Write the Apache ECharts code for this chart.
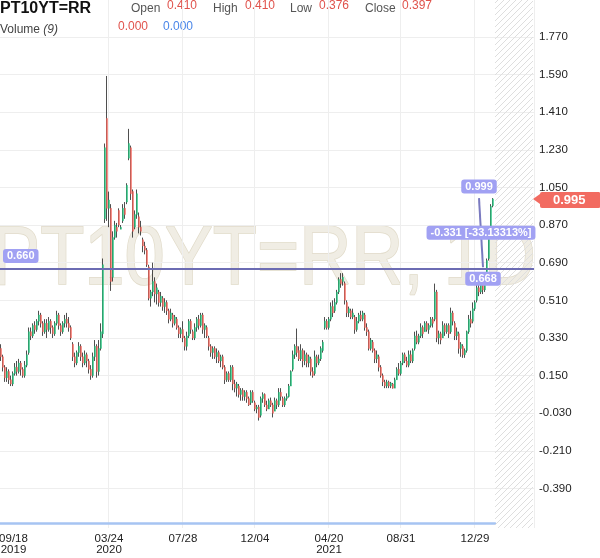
<!DOCTYPE html>
<html><head><meta charset="utf-8">
<script src="https://cdn.jsdelivr.net/npm/echarts@6/dist/echarts.min.js"></script>
<style>html,body{margin:0;padding:0;background:#fff}#c{width:600px;height:558px}</style>
</head><body><div id="c"></div><script>
// ---- data (one candle ~ two trading days, Sep 2019 -> Feb 2022) ----
const opens = [0.28,0.24,0.19,0.14,0.17,0.13,0.11,0.16,0.19,0.17,
0.21,0.18,0.15,0.20,0.26,0.36,0.34,0.39,0.37,0.41,
0.44,0.40,0.36,0.40,0.37,0.41,0.38,0.35,0.40,0.44,
0.39,0.36,0.40,0.42,0.40,0.38,0.30,0.24,0.21,0.26,
0.29,0.24,0.21,0.25,0.22,0.18,0.15,0.24,0.29,0.17,
0.28,0.35,0.90,1.38,0.95,0.95,0.62,0.81,0.86,0.94,
0.85,0.89,0.95,0.98,1.19,1.24,1.03,0.86,0.92,0.91,
0.86,0.80,0.77,0.75,0.67,0.52,0.55,0.60,0.54,0.55,
0.50,0.52,0.48,0.50,0.46,0.42,0.44,0.40,0.42,0.38,
0.35,0.37,0.33,0.29,0.34,0.41,0.36,0.33,0.38,0.42,
0.39,0.44,0.37,0.38,0.33,0.29,0.26,0.28,0.24,0.26,
0.22,0.24,0.19,0.13,0.16,0.13,0.19,0.11,0.09,0.10,
0.06,0.08,0.05,0.07,0.04,0.02,0.07,0.02,-0.01,0.00,
-0.04,0.04,0.06,0.01,-0.01,0.03,0.01,-0.02,0.03,0.01,
0.07,0.04,0.01,0.04,0.05,0.10,0.18,0.25,0.29,0.27,
0.23,0.27,0.22,0.25,0.21,0.23,0.17,0.16,0.24,0.21,
0.23,0.27,0.38,0.41,0.38,0.42,0.48,0.46,0.50,0.55,
0.61,0.60,0.59,0.50,0.45,0.46,0.43,0.43,0.37,0.41,
0.44,0.42,0.44,0.38,0.36,0.28,0.31,0.27,0.23,0.24,
0.19,0.15,0.12,0.10,0.12,0.10,0.11,0.09,0.13,0.18,
0.16,0.21,0.25,0.22,0.20,0.25,0.22,0.28,0.34,0.31,
0.34,0.38,0.36,0.40,0.37,0.39,0.42,0.42,0.55,0.33,
0.35,0.33,0.39,0.36,0.39,0.36,0.45,0.40,0.34,0.35,
0.28,0.29,0.25,0.27,0.36,0.42,0.41,0.47,0.51,0.57,
0.55,0.59,0.56,0.63,0.71,0.84,0.962];
const closes = [0.24,0.19,0.14,0.17,0.13,0.11,0.16,0.19,0.17,0.21,
0.18,0.15,0.20,0.25,0.36,0.34,0.39,0.37,0.41,0.44,
0.40,0.36,0.40,0.37,0.41,0.38,0.35,0.40,0.44,0.39,
0.36,0.40,0.42,0.40,0.38,0.33,0.24,0.21,0.26,0.29,
0.24,0.21,0.25,0.22,0.18,0.15,0.24,0.29,0.17,0.28,
0.36,0.68,1.24,0.95,0.99,0.60,0.81,0.87,0.84,0.87,
0.86,0.95,0.92,1.06,1.26,1.02,0.84,0.92,1.02,0.86,
0.84,0.77,0.75,0.68,0.52,0.55,0.60,0.54,0.57,0.50,
0.53,0.48,0.50,0.46,0.42,0.45,0.40,0.43,0.38,0.35,
0.37,0.33,0.29,0.34,0.41,0.37,0.33,0.38,0.42,0.39,
0.44,0.37,0.39,0.34,0.29,0.26,0.28,0.24,0.26,0.22,
0.24,0.19,0.13,0.16,0.13,0.19,0.11,0.09,0.11,0.06,
0.08,0.05,0.07,0.04,0.01,0.07,0.03,-0.01,0.00,-0.05,
0.04,0.06,0.01,-0.01,0.03,0.01,-0.03,0.03,0.01,0.07,
0.05,0.01,0.04,0.05,0.10,0.17,0.25,0.29,0.26,0.23,
0.27,0.22,0.25,0.21,0.24,0.17,0.15,0.24,0.21,0.23,
0.28,0.31,0.41,0.38,0.42,0.48,0.45,0.50,0.55,0.61,
0.59,0.62,0.51,0.45,0.47,0.43,0.45,0.37,0.41,0.44,
0.42,0.45,0.38,0.36,0.28,0.32,0.27,0.23,0.25,0.19,
0.15,0.12,0.10,0.12,0.10,0.115,0.09,0.13,0.18,0.16,
0.21,0.25,0.22,0.20,0.25,0.22,0.27,0.34,0.31,0.34,
0.38,0.35,0.40,0.37,0.39,0.42,0.40,0.55,0.33,0.35,
0.32,0.39,0.36,0.39,0.35,0.45,0.41,0.34,0.36,0.28,
0.30,0.25,0.27,0.36,0.42,0.40,0.47,0.50,0.57,0.55,
0.59,0.56,0.60,0.70,0.83,0.96,0.995];
const lows = [0.22,0.17,0.12,0.12,0.11,0.10,0.10,0.15,0.15,0.16,
0.15,0.14,0.14,0.19,0.25,0.32,0.33,0.35,0.36,0.39,
0.38,0.34,0.35,0.33,0.36,0.35,0.33,0.34,0.39,0.37,
0.34,0.35,0.38,0.38,0.36,0.32,0.22,0.19,0.20,0.24,
0.22,0.19,0.20,0.19,0.16,0.13,0.14,0.22,0.14,0.15,
0.27,0.33,0.88,0.89,0.86,0.555,0.60,0.80,0.81,0.86,
0.85,0.88,0.90,0.97,1.18,0.99,0.81,0.85,0.90,0.83,
0.82,0.74,0.73,0.67,0.51,0.48,0.53,0.50,0.49,0.48,
0.48,0.46,0.45,0.44,0.40,0.41,0.38,0.39,0.37,0.33,
0.33,0.31,0.27,0.27,0.33,0.35,0.32,0.32,0.36,0.37,
0.38,0.35,0.33,0.33,0.27,0.24,0.23,0.23,0.21,0.21,
0.19,0.18,0.11,0.12,0.12,0.12,0.08,0.07,0.05,0.045,
0.03,0.03,0.03,0.02,0.005,0.01,0.02,-0.02,-0.03,-0.065,
-0.05,0.02,0.00,-0.02,-0.01,0.00,-0.05,-0.02,-0.01,0.00,
0.03,0.00,0.00,0.03,0.045,0.10,0.17,0.23,0.24,0.22,
0.22,0.19,0.20,0.19,0.19,0.15,0.14,0.15,0.19,0.20,
0.22,0.26,0.37,0.37,0.37,0.41,0.43,0.45,0.49,0.54,
0.57,0.58,0.49,0.43,0.43,0.42,0.42,0.35,0.36,0.40,
0.41,0.41,0.365,0.34,0.27,0.27,0.26,0.21,0.21,0.17,
0.14,0.10,0.09,0.09,0.09,0.09,0.088,0.09,0.13,0.15,
0.15,0.20,0.21,0.19,0.19,0.21,0.21,0.27,0.30,0.30,
0.33,0.33,0.36,0.36,0.35,0.38,0.38,0.41,0.31,0.30,
0.30,0.33,0.34,0.35,0.33,0.35,0.39,0.32,0.32,0.255,
0.24,0.235,0.235,0.26,0.35,0.38,0.40,0.46,0.50,0.53,
0.54,0.54,0.55,0.62,0.70,0.83,0.955];
const highs = [0.30,0.25,0.20,0.19,0.18,0.15,0.17,0.21,0.22,0.23,
0.22,0.19,0.22,0.27,0.38,0.38,0.40,0.41,0.42,0.46,
0.45,0.41,0.42,0.42,0.43,0.42,0.39,0.41,0.46,0.45,
0.40,0.41,0.44,0.45,0.43,0.39,0.31,0.26,0.27,0.31,
0.30,0.26,0.27,0.26,0.23,0.20,0.26,0.32,0.30,0.32,
0.40,0.71,1.26,1.583,1.03,0.97,0.84,0.89,0.88,0.95,
0.87,0.97,0.98,1.07,1.33,1.25,1.04,0.94,1.04,0.93,
0.89,0.81,0.79,0.76,0.68,0.56,0.69,0.62,0.59,0.56,
0.55,0.53,0.52,0.51,0.47,0.47,0.45,0.44,0.43,0.39,
0.38,0.41,0.34,0.36,0.42,0.42,0.37,0.40,0.43,0.44,
0.45,0.45,0.40,0.39,0.34,0.30,0.29,0.29,0.28,0.27,
0.25,0.25,0.20,0.17,0.17,0.20,0.20,0.13,0.12,0.11,
0.09,0.09,0.08,0.08,0.05,0.08,0.08,0.03,0.01,0.01,
0.05,0.07,0.065,0.03,0.04,0.045,0.02,0.045,0.04,0.09,
0.09,0.05,0.05,0.065,0.11,0.175,0.27,0.30,0.375,0.29,
0.30,0.28,0.27,0.26,0.25,0.24,0.19,0.27,0.25,0.25,
0.29,0.32,0.43,0.42,0.43,0.50,0.51,0.52,0.56,0.62,
0.64,0.64,0.60,0.51,0.48,0.47,0.47,0.44,0.43,0.45,
0.46,0.46,0.45,0.40,0.37,0.33,0.32,0.28,0.27,0.25,
0.20,0.16,0.13,0.13,0.126,0.12,0.115,0.14,0.19,0.21,
0.22,0.26,0.26,0.24,0.27,0.27,0.28,0.36,0.365,0.35,
0.40,0.39,0.41,0.41,0.40,0.43,0.43,0.59,0.56,0.365,
0.36,0.41,0.40,0.40,0.40,0.475,0.46,0.41,0.38,0.36,
0.31,0.30,0.28,0.365,0.44,0.46,0.50,0.51,0.59,0.60,
0.61,0.62,0.62,0.71,0.84,0.97,0.999];

// x tick labels: [candle index, date, year]
const tickLabels = [[0,'09/18','2019'],[54,'03/24','2020'],[91,'07/28',''],[127,'12/04',''],
  [164,'04/20','2021'],[200,'08/31',''],[237,'12/29','']];
const yTickValues = [-0.39,-0.21,-0.03,0.15,0.33,0.51,0.69,0.87,1.05,1.23,1.41,1.59,1.77];
const refLevel = 0.660;
const lastClose = 0.995;
const measureFrom = [239, 0.999];
const measureTo = [241, 0.668];
const measureText = '-0.331 [-33.13313%]';
const symbolName = 'PT10YT=RR';
const watermarkText = 'PT10YT=RR, 1D';
const quoteLabels = ['Open','High','Low','Close'];
const quoteValues = ['0.410','0.410','0.376','0.397'];
const volumeValues = ['0.000','0.000'];
const futureSlots = 20;

// ---- build ----
const FONT = '"Liberation Sans", Arial, sans-serif';
const UP = '#22c27c', DOWN = '#f4645a';
const categories = Array.from({length: opens.length + futureSlots}, (_, i) => String(i));
const labelAt = new Map(tickLabels.map(t => [t[0], t]));
const candleData = opens.map((o, i) => [o, closes[i], lows[i], highs[i]]);
const bodyData = opens.map((o, i) => [o, closes[i], Math.min(o, closes[i]), Math.max(o, closes[i])]);

const hatch = document.createElement('canvas');
hatch.width = 6; hatch.height = 6;
const hg = hatch.getContext('2d');
hg.strokeStyle = '#dedede'; hg.lineWidth = 1;
hg.beginPath();
hg.moveTo(0, 6); hg.lineTo(6, 0);
hg.moveTo(-1, 1); hg.lineTo(1, -1);
hg.moveTo(5, 7); hg.lineTo(7, 5);
hg.stroke();

const boxLabel = {backgroundColor: '#a1a1f3', color: '#fff', fontWeight: 'bold', fontSize: 11,
  fontFamily: FONT, padding: [2, 4, 1, 4], borderRadius: 3};

const labelXs = [131, 213, 290, 365];
const valueXs = [167, 245, 319, 402];
const graphics = [
  {type: 'text', x: 264, y: 261, scaleX: 0.86, z: -10, silent: true,
   style: {text: watermarkText, font: '84px ' + FONT, fill: '#f0ede4', stroke: '#e0dac8', lineWidth: 1.5,
     align: 'center', verticalAlign: 'middle'}},
  {type: 'text', x: 0, y: 9, style: {text: symbolName, font: 'bold 16px ' + FONT, fill: '#111', verticalAlign: 'middle'}},
  {type: 'text', x: 0, y: 30, style: {text: 'Volume {i|(9)}', font: '12px ' + FONT, fill: '#444', verticalAlign: 'middle',
     rich: {i: {fontStyle: 'italic', fontSize: 12, fontFamily: FONT, fill: '#444'}}}},
  {type: 'text', x: 118, y: 27, style: {text: volumeValues[0], font: '12px ' + FONT, fill: '#e0534c', verticalAlign: 'middle'}},
  {type: 'text', x: 163, y: 27, style: {text: volumeValues[1], font: '12px ' + FONT, fill: '#4a86e8', verticalAlign: 'middle'}},
  // small pointer of the last-price tag
  {type: 'polygon', z: 10, silent: true, shape: {points: [[533, 199], [540, 194], [540, 204]]}, style: {fill: '#f26b61'}}
];
quoteLabels.forEach((t, i) => {
  graphics.push({type: 'text', x: labelXs[i], y: 9, style: {text: t, font: '12px ' + FONT, fill: '#555', verticalAlign: 'middle'}});
  graphics.push({type: 'text', x: valueXs[i], y: 6, style: {text: quoteValues[i], font: '12px ' + FONT, fill: '#e0534c', verticalAlign: 'middle'}});
});

const chart = echarts.init(document.getElementById('c'), null, {renderer: 'canvas'});
chart.setOption({
  animation: false,
  backgroundColor: '#fff',
  textStyle: {fontFamily: FONT},
  graphic: graphics,
  grid: [
    {left: 0, right: 66, top: 0, bottom: 30, outerBoundsMode: 'none', containLabel: false},
    {left: 0, width: 495, top: 520, height: 3.5, outerBoundsMode: 'none', containLabel: false}
  ],
  xAxis: [
    {type: 'category', gridIndex: 0, data: categories, boundaryGap: true,
     axisLine: {show: false}, axisTick: {show: false},
     axisLabel: {
       interval: (i) => labelAt.has(i), color: '#222', fontSize: 11.5, lineHeight: 11, margin: 5,
       fontFamily: FONT, hideOverlap: false,
       formatter: (v, i) => {
         const t = labelAt.get(i); if (!t) return '';
         if (i === 0) return '{l|' + t[1] + '}' + (t[2] ? '\n{l|' + t[2] + '}' : '');
         return t[1] + (t[2] ? '\n' + t[2] : '');
       },
       rich: {l: {padding: [0, 0, 0, 25], fontSize: 11.5, lineHeight: 11, color: '#222', fontFamily: FONT}}
     },
     splitLine: {show: true, interval: (i) => labelAt.has(i) && i > 0, lineStyle: {color: '#eeeeee', width: 1}}},
    {type: 'value', gridIndex: 1, min: 0, max: 1,
     axisLine: {show: true, onZero: false, lineStyle: {color: '#a6c4f2', width: 2.5}},
     axisTick: {show: false}, axisLabel: {show: false}, splitLine: {show: false}}
  ],
  yAxis: [
    {type: 'value', gridIndex: 0, position: 'right', min: -0.5788, max: 1.9463,
     axisLine: {show: false},
     axisTick: {show: false, customValues: yTickValues},
     axisLabel: {customValues: yTickValues, formatter: (v) => v.toFixed(3), color: '#222', fontSize: 11.5,
       margin: 5, fontFamily: FONT},
     splitLine: {show: true, lineStyle: {color: '#eeeeee', width: 1}}},
    {type: 'value', gridIndex: 1, show: false, min: 0, max: 1}
  ],
  series: [
    {type: 'candlestick', name: 'wick', xAxisIndex: 0, yAxisIndex: 0, data: candleData,
     barWidth: 0.4, silent: true, z: 2,
     itemStyle: {color: '#222', color0: '#222', borderColor: '#222', borderColor0: '#222', borderWidth: 0.8}},
    {type: 'candlestick', name: symbolName, xAxisIndex: 0, yAxisIndex: 0, data: bodyData,
     barWidth: 1.7, silent: true, z: 3,
     itemStyle: {color: UP, color0: DOWN, borderColor: UP, borderColor0: DOWN, borderWidth: 0.4},
     markArea: {silent: true, itemStyle: {color: {image: hatch, repeat: 'repeat'}},
       data: [[{xAxis: opens.length}, {xAxis: categories.length - 1}]]},
     markLine: {
       silent: true, symbol: ['none', 'none'], animation: false,
       data: [
         {yAxis: refLevel, lineStyle: {color: '#6c6cb3', width: 2, type: 'solid'},
          label: Object.assign({show: true, position: 'insideStartTop', formatter: refLevel.toFixed(3), distance: [3, 6]}, boxLabel)},
         {yAxis: lastClose, lineStyle: {color: 'rgba(0,0,0,0)', width: 1, type: 'solid'},
          label: {show: true, position: 'end', formatter: lastClose.toFixed(3), distance: 6,
            backgroundColor: '#f26b61', color: '#fff', fontWeight: 'bold', fontSize: 13, fontFamily: FONT,
            padding: [2, 15, 1, 13], borderRadius: 2}},
         [{coord: measureFrom, lineStyle: {color: '#7a7ac0', width: 2, type: 'solid'}, label: {show: false}},
          {coord: measureTo}]
       ]
     },
     markPoint: {
       silent: true, symbol: 'circle', symbolSize: 1, animation: false,
       itemStyle: {color: 'rgba(0,0,0,0)'},
       label: Object.assign({show: true}, boxLabel),
       data: [
         {coord: measureFrom, label: {position: 'top', distance: 4, formatter: measureFrom[1].toFixed(3)}},
         {coord: measureTo, label: {position: 'bottom', distance: 4, formatter: measureTo[1].toFixed(3)}},
         {coord: [(measureFrom[0] + measureTo[0]) / 2, (measureFrom[1] + measureTo[1]) / 2],
          label: {position: 'inside', formatter: measureText}}
       ]
     }}
  ]
});
</script></body></html>
